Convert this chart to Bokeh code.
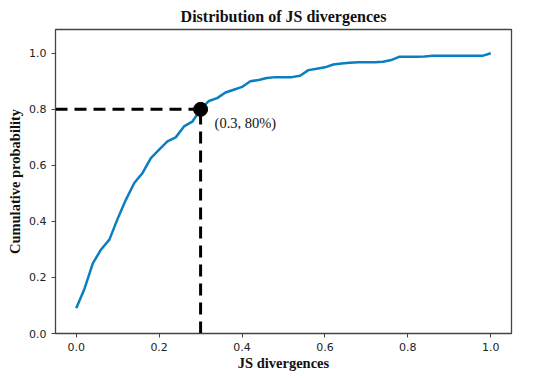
from bokeh.plotting import figure
from bokeh.models import FixedTicker, Range1d, Label, PrintfTickFormatter
from bokeh.embed import file_html
from bokeh.resources import INLINE

js_div = [0.00, 0.02, 0.04, 0.06, 0.08, 0.10, 0.12, 0.14, 0.16, 0.18, 0.20,
          0.22, 0.24, 0.26, 0.28, 0.30, 0.32, 0.34, 0.36, 0.38, 0.40, 0.42,
          0.44, 0.46, 0.48, 0.50, 0.52, 0.54, 0.56, 0.58, 0.60, 0.62, 0.64,
          0.66, 0.68, 0.70, 0.72, 0.74, 0.76, 0.78, 0.80, 0.82, 0.84, 0.86,
          0.88, 0.90, 0.92, 0.94, 0.96, 0.98, 1.00]
cum_prob = [0.09, 0.16, 0.25, 0.30, 0.335, 0.41, 0.478, 0.537, 0.573, 0.626, 0.656,
            0.686, 0.70, 0.739, 0.756, 0.80, 0.83, 0.84, 0.86, 0.87, 0.88, 0.90,
            0.905, 0.912, 0.915, 0.915, 0.915, 0.92, 0.94, 0.945, 0.95, 0.96, 0.964,
            0.966, 0.968, 0.968, 0.968, 0.97, 0.976, 0.988, 0.988, 0.988, 0.989, 0.991,
            0.991, 0.991, 0.991, 0.991, 0.991, 0.991, 1.00]
mark_x = [0.3]
mark_y = [0.8]
x_ticks = [0.0, 0.2, 0.4, 0.6, 0.8, 1.0]
y_ticks = [0.0, 0.2, 0.4, 0.6, 0.8, 1.0]

p = figure(width=550, height=380, output_backend="svg", toolbar_location=None,
           x_range=Range1d(-0.05, 1.05), y_range=Range1d(0, 1.085),
           title="Distribution of JS divergences",
           min_border_left=55, min_border_right=39, min_border_top=28, min_border_bottom=47)

p.title.align = "center"
p.title.text_font = "Liberation Serif"
p.title.text_font_size = "16px"
p.title.text_font_style = "bold"
p.title.text_color = "#111111"
p.title.offset = 0

p.xgrid.visible = False
p.ygrid.visible = False
p.outline_line_color = "#444444"
p.outline_line_width = 1.3
p.background_fill_color = "white"
p.border_fill_color = "white"

for ax in (p.xaxis[0], p.yaxis[0]):
    ax.axis_line_color = "#444444"
    ax.major_tick_line_color = "#444444"
    ax.major_tick_out = 4
    ax.major_tick_in = 0
    ax.minor_tick_line_color = None
    ax.major_label_text_font = "DejaVu Sans"
    ax.major_label_text_font_size = "11px"
    ax.major_label_text_color = "#222222"
    ax.axis_label_text_font = "Liberation Serif"
    ax.axis_label_text_font_size = "14.5px"
    ax.axis_label_text_font_style = "bold"
    ax.axis_label_text_color = "#111111"
    ax.formatter = PrintfTickFormatter(format="%.1f")

p.xaxis.ticker = FixedTicker(ticks=x_ticks)
p.yaxis.ticker = FixedTicker(ticks=y_ticks)
p.xaxis.axis_label = "JS divergences"
p.yaxis.axis_label = "Cumulative probability"
p.xaxis.axis_label_standoff = 1
p.yaxis.axis_label_standoff = 3

p.line(js_div, cum_prob, line_color="#0b7dc1", line_width=2.5)

# dashed guide lines
p.line([-0.05, mark_x[0]], [mark_y[0], mark_y[0]], line_color="black", line_width=3, line_dash="12 7")
p.line([mark_x[0], mark_x[0]], [0, mark_y[0]], line_color="black", line_width=3, line_dash="12 7")
p.scatter(mark_x, mark_y, size=14, color="black")

p.add_layout(Label(x=mark_x[0], y=mark_y[0], text="(0.3, 80%)", x_offset=14, y_offset=-22,
                   text_font="Liberation Serif", text_font_size="14.5px", text_color="#111111"))

open("out.html", "w").write(file_html(p, INLINE))
